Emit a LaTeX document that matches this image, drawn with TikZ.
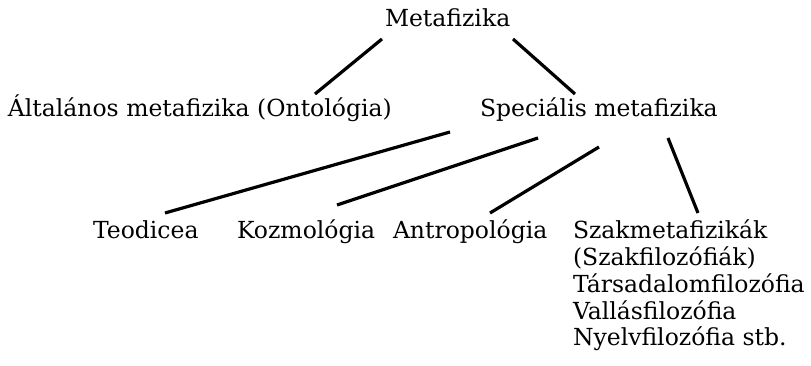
\documentclass[tikz,border=0pt]{standalone}
\usepackage{fontspec}
\setmainfont{DejaVu Serif}
\usetikzlibrary{calc}
\tikzset{
  lbl/.style={anchor=base west, inner sep=0pt, outer sep=0pt, font=\fontsize{23.5}{26.5}\selectfont},
  conn/.style={line width=3.2pt, black}
}
\begin{document}
\begin{tikzpicture}[x=1pt,y=1pt]
\useasboundingbox (0,0) rectangle (811,366);
\node[lbl] (meta) at (385,339) {Metafizika};
\node[lbl] (alt) at (8,249) {Általános metafizika (Ontológia)};
\node[lbl] (spec) at (480,249) {Speciális metafizika};
\node[lbl] (teo) at (93,127) {Teodicea};
\node[lbl] (koz) at (237,127) {Kozmológia};
\node[lbl] (ant) at (393,127) {Antropológia};
\node[lbl] (szak) at (573,127) {\begin{tabular}[t]{@{}l@{}}Szakmetafizikák\\(Szakfilozófiák)\\Társadalomfilozófia\\Vallásfilozófia\\Nyelvfilozófia stb.\end{tabular}};
\draw[conn] ($(meta.base west)+(-3,-12)$) -- ($(alt.base west)+(307,23)$);
\draw[conn] ($(meta.base west)+(128,-12)$) -- ($(spec.base west)+(95,23)$);
\draw[conn] ($(spec.base west)+(-30,-15)$) -- ($(teo.base west)+(72,26)$);
\draw[conn] ($(spec.base west)+(58,-21)$) -- ($(koz.base west)+(100,34)$);
\draw[conn] ($(spec.base west)+(119,-30)$) -- ($(ant.base west)+(97,26)$);
\draw[conn] ($(spec.base west)+(188,-21)$) -- ($(szak.base west)+(125,26)$);
\end{tikzpicture}
\end{document}
